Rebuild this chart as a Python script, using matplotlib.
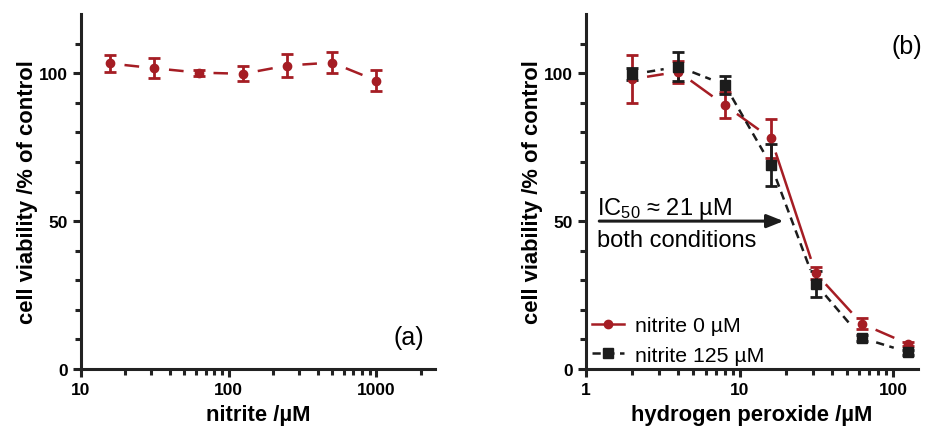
import numpy as np
import matplotlib.pyplot as plt
from matplotlib.ticker import FixedLocator, LogLocator, NullFormatter

plt.rcParams['font.family'] = ['Liberation Sans', 'DejaVu Sans']
plt.rcParams['mathtext.fontset'] = 'custom'
plt.rcParams['mathtext.rm'] = 'Liberation Sans'
plt.rcParams['mathtext.it'] = 'Liberation Sans'

RED = '#a51d24'
BLACK = '#1c1c1c'

# (a) nitrite alone
nitrite_conc = [15.625, 31.25, 62.5, 125, 250, 500, 1000]
nitrite_via = [103.3, 101.7, 100.2, 99.8, 102.6, 103.6, 97.5]
nitrite_err = [3.0, 3.3, 1.0, 2.5, 3.8, 3.5, 3.6]

# (b) hydrogen peroxide with / without nitrite
h2o2_conc = [2, 4, 8, 16, 31.25, 62.5, 125]
via_no_nitrite = [98.0, 100.5, 89.2, 78.0, 32.4, 15.3, 8.5]
err_no_nitrite = [8.0, 3.7, 4.5, 6.5, 2.1, 1.8, 0.8]
via_nitrite_125 = [99.6, 102.2, 96.1, 69.0, 28.8, 10.5, 5.7]
err_nitrite_125 = [2.0, 5.0, 3.0, 7.0, 4.4, 1.0, 0.8]

ic50 = 21


def gapped_line(ax, x, y, color, ls='-', gap=15):
    # connect neighbouring points, leaving `gap` pixels free around each symbol
    pts = ax.transData.transform(np.column_stack([x, y]))
    inv = ax.transData.inverted()
    for p, q in zip(pts[:-1], pts[1:]):
        d = q - p
        n = np.hypot(*d)
        if n <= 2 * gap:
            continue
        u = d / n
        a, b = inv.transform(np.array([p + u * gap, q - u * gap]))
        ax.plot([a[0], b[0]], [a[1], b[1]], color=color, lw=1.8, ls=ls,
                solid_capstyle='butt', dash_capstyle='butt')


def style_axes(ax, xlim):
    ax.set_xscale('log')
    ax.set_xlim(*xlim)
    ax.set_ylim(0, 120)
    ax.spines['top'].set_visible(False)
    ax.spines['right'].set_visible(False)
    for s in ('left', 'bottom'):
        ax.spines[s].set_linewidth(2.2)
        ax.spines[s].set_color('#222222')
    ax.yaxis.set_major_locator(FixedLocator([0, 50, 100]))
    ax.yaxis.set_minor_locator(FixedLocator([10, 20, 30, 40, 60, 70, 80, 90, 110]))
    ax.xaxis.set_minor_locator(LogLocator(base=10, subs=np.arange(2, 10)))
    ax.xaxis.set_minor_formatter(NullFormatter())
    ax.tick_params(which='major', length=6, width=2.2, labelsize=12.5, color='#222222')
    ax.tick_params(which='minor', length=4, width=2.2, color='#222222')
    for lab in ax.get_yticklabels():
        lab.set_fontweight('bold')
    ax.set_ylabel('cell viability /% of control', fontsize=15.8, fontweight='bold', labelpad=0.5)


fig = plt.figure(figsize=(9.37, 4.31), dpi=100)
ax1 = fig.add_axes([0.0864, 0.1415, 0.378, 0.8236])
ax2 = fig.add_axes([0.6254, 0.1415, 0.3543, 0.8236])

# panel (a)
style_axes(ax1, (10, 2500))
ax1.set_xticks([10, 100, 1000])
ax1.set_xticklabels(['10', '100', '1000'], fontweight='bold')
ax1.set_xlabel('nitrite /µM', fontsize=15.8, fontweight='bold', labelpad=5)
gapped_line(ax1, nitrite_conc, nitrite_via, RED)
ax1.errorbar(nitrite_conc, nitrite_via, yerr=nitrite_err, fmt='o', color=RED,
             ms=6, elinewidth=2, capsize=4, capthick=2)
ax1.text(0.927, 0.09, '(a)', transform=ax1.transAxes, fontsize=18,
         ha='center', va='center')

# panel (b)
style_axes(ax2, (1, 145))
ax2.set_xticks([1, 10, 100])
ax2.set_xticklabels(['1', '10', '100'], fontweight='bold')
ax2.set_xlabel('hydrogen peroxide /µM', fontsize=15.8, fontweight='bold', labelpad=5)
gapped_line(ax2, h2o2_conc, via_no_nitrite, RED)
ax2.errorbar(h2o2_conc, via_no_nitrite, yerr=err_no_nitrite, fmt='o', color=RED,
             ms=6, elinewidth=2, capsize=4, capthick=2)
gapped_line(ax2, h2o2_conc, via_nitrite_125, BLACK, ls=(0, (3.3, 2.2)))
ax2.errorbar(h2o2_conc, via_nitrite_125, yerr=err_nitrite_125, fmt='s', color=BLACK,
             ms=6.5, elinewidth=2, capsize=4, capthick=2)

# legend handles
h_red, = ax2.plot([], [], '-o', color=RED, lw=1.8, ms=6)
h_blk, = ax2.plot([], [], 's', color=BLACK, ls=(0, (3.3, 2.2)), lw=1.8, ms=6.5)
ax2.legend([h_red, h_blk], ['nitrite 0 µM', 'nitrite 125 µM'], loc='lower left',
           frameon=False, fontsize=15.3, handlelength=1.5, handletextpad=0.55,
           labelspacing=0.5, borderaxespad=0.0, borderpad=0.2,
           bbox_to_anchor=(0.005, 0.0))

ax2.annotate('', xy=(ic50 * 0.92, 50), xytext=(1.22, 50),
             arrowprops=dict(arrowstyle='-|>,head_length=1.0,head_width=0.4',
                             color=BLACK, lw=2.2, shrinkA=0, shrinkB=0))
ax2.text(1.18, 52.5, r'IC$_{50}$ ≈ ' + f'{ic50} µM', fontsize=17, va='baseline')
ax2.text(1.18, 41.7, 'both conditions', fontsize=17, va='baseline')
ax2.text(0.967, 0.911, '(b)', transform=ax2.transAxes, fontsize=18,
         ha='center', va='center')

fig.savefig('out.png', dpi=100)
